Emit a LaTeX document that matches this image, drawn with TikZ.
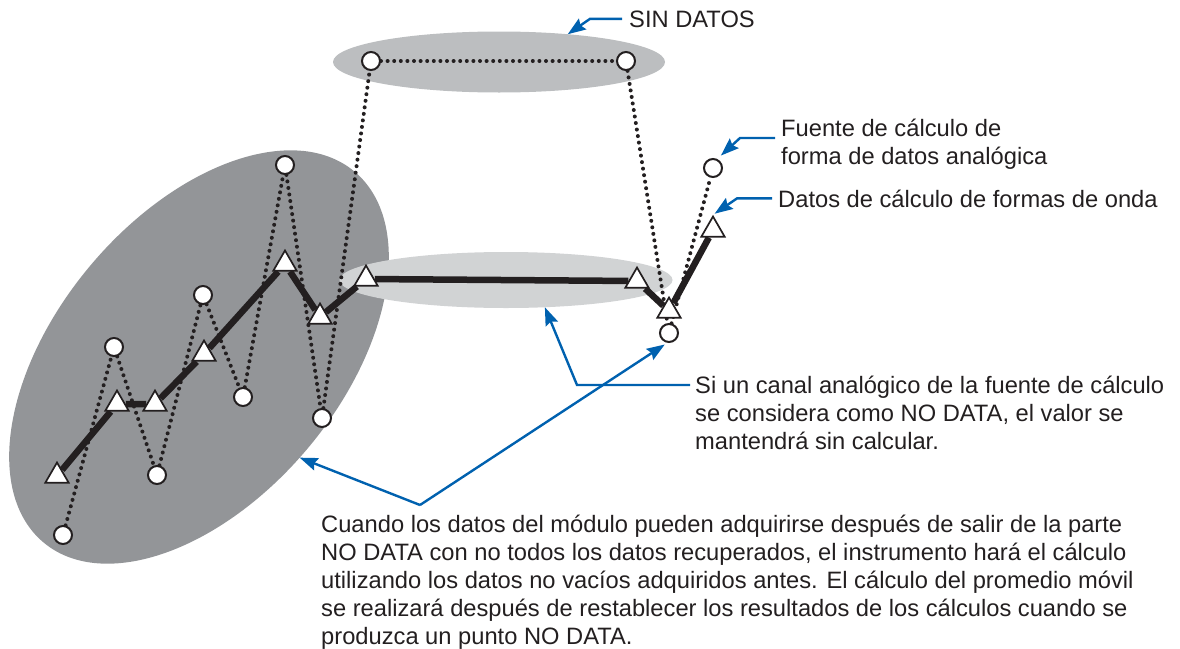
\documentclass[tikz,border=0pt]{standalone}
\usepackage{fontspec}
\setmainfont{Liberation Sans}
\usetikzlibrary{arrows.meta,shapes.geometric}
\definecolor{refblue}{RGB}{0,97,175}
\definecolor{inkblack}{RGB}{35,31,32}
\definecolor{zonedark}{RGB}{147,149,152}
\definecolor{zonemid}{RGB}{209,211,212}
\definecolor{zonetop}{RGB}{188,190,192}
\pgfdeclarelayer{zones}
\pgfdeclarelayer{traces}
\pgfsetlayers{zones,traces,main}

\begin{document}
\begin{tikzpicture}[x=1pt,y=-1pt,
  raw/.style={draw=inkblack,circle,fill=white,line width=2pt,minimum size=18pt,inner sep=0pt},
  tri/.style={draw=inkblack,regular polygon,regular polygon sides=3,fill=white,line width=1.7pt,minimum size=27pt,inner sep=0pt},
  zone/.style={ellipse,inner sep=0pt,outer sep=0pt},
  rawline/.style={inkblack,line width=4pt,line cap=round,dash pattern=on 0pt off 6.6pt},
  waveline/.style={inkblack,line width=6.5pt,line join=round},
  lbl/.style={inner sep=0pt,text=inkblack,align=left,font=\fontsize{23.7}{28}\selectfont},
  callout/.style={refblue,line width=2.4pt,-{Stealth[length=18pt,width=13pt,inset=2.5pt]}}]
  \useasboundingbox (0,0) rectangle (1180,648);

  % shaded zones
  \begin{pgfonlayer}{zones}
    \node[zone,fill=zonedark,rotate=50,minimum width=484pt,minimum height=284pt] (window) at (199,357) {};
    \node[zone,fill=zonemid,minimum width=333pt,minimum height=56pt] (holdzone) at (506,280) {};
    \node[zone,fill=zonetop,minimum width=332pt,minimum height=61pt] (gapzone) at (499,62) {};
  \end{pgfonlayer}

  % source samples
  \node[raw] (r1) at (63,535) {};
  \node[raw] (r2) at (114,347) {};
  \node[raw] (r3) at (157,475) {};
  \node[raw] (r4) at (203,295) {};
  \node[raw] (r5) at (243,397) {};
  \node[raw] (r6) at (285,165) {};
  \node[raw] (r7) at (322,418) {};
  \node[raw] (r8) at (371,61) {};
  \node[raw] (r9) at (626,61) {};
  \node[raw] (r10) at (669,333) {};
  \node[raw] (r11) at (713,168) {};

  % computed waveform
  \node[tri] (w1) at (57,476) {};
  \node[tri] (w2) at (117,404) {};
  \node[tri] (w3) at (155,404) {};
  \node[tri] (w4) at (204,354) {};
  \node[tri] (w5) at (285,264) {};
  \node[tri] (w6) at (320,317) {};
  \node[tri] (w7) at (366,279) {};
  \node[tri] (w8) at (637,281) {};
  \node[tri] (w9) at (669,311) {};
  \node[tri] (w10) at (713,230) {};

  \begin{pgfonlayer}{traces}
    \draw[rawline] (r1) -- (r2) -- (r3) -- (r4) -- (r5) -- (r6) -- (r7) -- (r8) -- (r9) -- (r10) -- (r11);
    \draw[waveline] (w1) -- (w2) -- (w3) -- (w4) -- (w5) -- (w6) -- (w7) -- (w8) -- (w9) -- (w10);
  \end{pgfonlayer}

  % labels
  \node[lbl,anchor=base west] (gaplbl) at (629,27) {SIN DATOS};
  \node[lbl,anchor=base west] (srclbl) at (781,164) {Fuente de cálculo de\\forma de datos analógica};
  \node[lbl,anchor=base west] (wavelbl) at (778,207) {Datos de cálculo de formas de onda};
  \node[lbl,anchor=base west] (holdlbl) at (695,449) {Si un canal analógico de la fuente de cálculo\\se considera como NO DATA, el valor se\\mantendrá sin calcular.};
  \node[lbl,anchor=base west] (notelbl) at (321,644) {Cuando los datos del módulo pueden adquirirse después de salir de la parte\\NO DATA con no todos los datos recuperados, el instrumento hará el cálculo\\utilizando los datos no vacíos adquiridos antes. El cálculo del promedio móvil\\se realizará después de restablecer los resultados de los cálculos cuando se\\produzca un punto NO DATA.};
  \coordinate (fork) at (420,505);

  % callouts
  \draw[callout] ([xshift=-7pt]gaplbl.west) -- ++(-32,0) -- (gapzone.22);
  \draw[callout,shorten >=5pt] ([shift={(-6pt,26pt)}]srclbl.base west) -- ++(-35,0) -- (r11.65);
  \draw[callout,shorten >=2pt] ([xshift=-6pt]wavelbl.west) -- ++(-35,0) -- (w10.corner 1);
  \draw[callout] ([shift={(-5pt,64pt)}]holdlbl.base west) -- ++(-113,0) -- (holdzone.-35);
  \draw[callout] (fork) -- (window.-95);
  \draw[callout,shorten >=3pt] (fork) -- (r10.-100);
\end{tikzpicture}
\end{document}
